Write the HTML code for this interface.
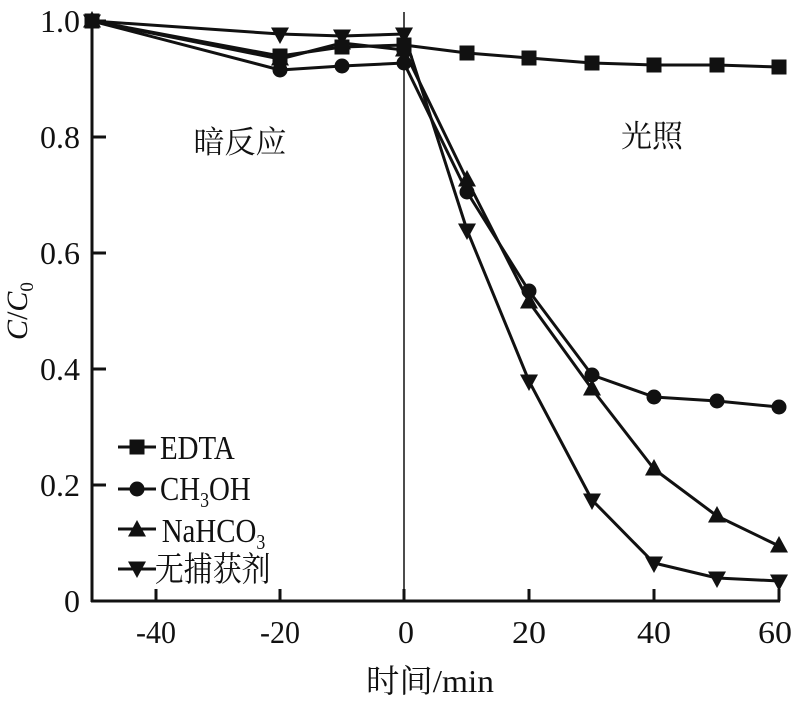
<!DOCTYPE html>
<html><head><meta charset="utf-8"><style>
html,body{margin:0;padding:0;background:#fff;}
svg text{font-family:"Liberation Serif","Noto Serif CJK SC",serif;fill:#111;}
</style></head><body>
<svg width="800" height="705" viewBox="0 0 800 705" xmlns="http://www.w3.org/2000/svg">
<defs>
<rect id="sq" x="-7.5" y="-7.5" width="15" height="15" fill="#111"/>
<circle id="ci" r="7.5" fill="#111"/>
<polygon id="tu" points="0,-10 9,6.5 -9,6.5" fill="#111"/>
<polygon id="td" points="0,10 9,-6.5 -9,-6.5" fill="#111"/>
</defs>
<g stroke="#111" stroke-width="3" fill="none">
<line x1="92" y1="15" x2="92" y2="602"/>
<line x1="91" y1="601" x2="780" y2="601"/>
</g>
<line x1="404" y1="12" x2="404" y2="601" stroke="#111" stroke-width="1.5"/>
<g stroke="#111" stroke-width="3">
<line x1="156" y1="601" x2="156" y2="589"/>
<line x1="280" y1="601" x2="280" y2="589"/>
<line x1="404" y1="601" x2="404" y2="589"/>
<line x1="529" y1="601" x2="529" y2="589"/>
<line x1="654" y1="601" x2="654" y2="589"/>
<line x1="779" y1="601" x2="779" y2="589"/>
<line x1="92" y1="485" x2="106" y2="485"/>
<line x1="92" y1="369" x2="106" y2="369"/>
<line x1="92" y1="253" x2="106" y2="253"/>
<line x1="92" y1="137" x2="106" y2="137"/>
<line x1="92" y1="21" x2="106" y2="21"/>
</g>
<g font-size="32" text-anchor="middle">
<text x="156" y="643" textLength="40" lengthAdjust="spacingAndGlyphs">-40</text><text x="280" y="643" textLength="40" lengthAdjust="spacingAndGlyphs">-20</text><text x="406" y="643">0</text>
<text x="529" y="643" textLength="34" lengthAdjust="spacingAndGlyphs">20</text><text x="654" y="643" textLength="34" lengthAdjust="spacingAndGlyphs">40</text><text x="775" y="643" textLength="34" lengthAdjust="spacingAndGlyphs">60</text>
</g>
<g font-size="32" text-anchor="end">
<text x="80" y="612">0</text><text x="80" y="496" textLength="40" lengthAdjust="spacingAndGlyphs">0.2</text><text x="80" y="380" textLength="40" lengthAdjust="spacingAndGlyphs">0.4</text>
<text x="80" y="264" textLength="40" lengthAdjust="spacingAndGlyphs">0.6</text><text x="80" y="148" textLength="40" lengthAdjust="spacingAndGlyphs">0.8</text><text x="80" y="32" textLength="40" lengthAdjust="spacingAndGlyphs">1.0</text>
</g>
<text x="430" y="692" font-size="32" text-anchor="middle" textLength="128" lengthAdjust="spacingAndGlyphs">时间/min</text>
<text transform="translate(27,311) rotate(-90)" font-size="30" text-anchor="middle"><tspan font-style="italic">C</tspan>/<tspan font-style="italic">C</tspan><tspan font-size="19" dy="6">0</tspan></text>
<text x="240" y="153" font-size="31" text-anchor="middle">暗反应</text>
<text x="652" y="147" font-size="31" text-anchor="middle">光照</text>
<g stroke="#111" stroke-width="3" fill="none" stroke-linejoin="round">
<polyline points="92,21 280,56 342,47 404,45 467,53 529,58 592,63 654,65 717,65 779,67"/>
<polyline points="92,21 280,70 342,66 404,63 467,192 529,291 592,375 654,397 717,401 779,407"/>
<polyline points="92,21 280,59 342,43 404,50 467,180 529,302 592,389 654,469 717,516 779,546"/>
<polyline points="92,21 280,34 342,36 404,34 467,230 529,381 592,500 654,563 717,578 779,581"/>
</g>
<g>
<use href="#sq" x="92" y="21"/><use href="#sq" x="280" y="56"/><use href="#sq" x="342" y="47"/><use href="#sq" x="404" y="45"/><use href="#sq" x="467" y="53"/><use href="#sq" x="529" y="58"/><use href="#sq" x="592" y="63"/><use href="#sq" x="654" y="65"/><use href="#sq" x="717" y="65"/><use href="#sq" x="779" y="67"/>
<use href="#ci" x="92" y="21"/><use href="#ci" x="280" y="70"/><use href="#ci" x="342" y="66"/><use href="#ci" x="404" y="63"/><use href="#ci" x="467" y="192"/><use href="#ci" x="529" y="291"/><use href="#ci" x="592" y="375"/><use href="#ci" x="654" y="397"/><use href="#ci" x="717" y="401"/><use href="#ci" x="779" y="407"/>
<use href="#tu" x="92" y="21"/><use href="#tu" x="280" y="59"/><use href="#tu" x="342" y="43"/><use href="#tu" x="404" y="50"/><use href="#tu" x="467" y="180"/><use href="#tu" x="529" y="302"/><use href="#tu" x="592" y="389"/><use href="#tu" x="654" y="469"/><use href="#tu" x="717" y="516"/><use href="#tu" x="779" y="546"/>
<use href="#td" x="92" y="21"/><use href="#td" x="280" y="34"/><use href="#td" x="342" y="36"/><use href="#td" x="404" y="34"/><use href="#td" x="467" y="230"/><use href="#td" x="529" y="381"/><use href="#td" x="592" y="500"/><use href="#td" x="654" y="563"/><use href="#td" x="717" y="578"/><use href="#td" x="779" y="581"/>
</g>
<g stroke="#111" stroke-width="3">
<line x1="118" y1="467" x2="156" y2="467" transform="translate(0,-20)"/>
<line x1="118" y1="489" x2="156" y2="489"/>
<line x1="118" y1="529" x2="156" y2="529"/>
<line x1="118" y1="569" x2="156" y2="569"/>
</g>
<use href="#sq" x="137" y="447"/><use href="#ci" x="137" y="489"/><use href="#tu" x="137" y="530"/><use href="#td" x="137" y="568"/>
<g font-size="34" transform="translate(160,0) scale(0.85,1)">
<text x="0" y="459">EDTA</text>
<text x="0" y="500">CH<tspan font-size="21" dy="7">3</tspan><tspan dy="-7">OH</tspan></text>
<text x="2" y="542">NaHCO<tspan font-size="21" dy="7">3</tspan></text>
<text x="-6" y="581">无捕获剂</text>
</g>
</svg>
</body></html>
